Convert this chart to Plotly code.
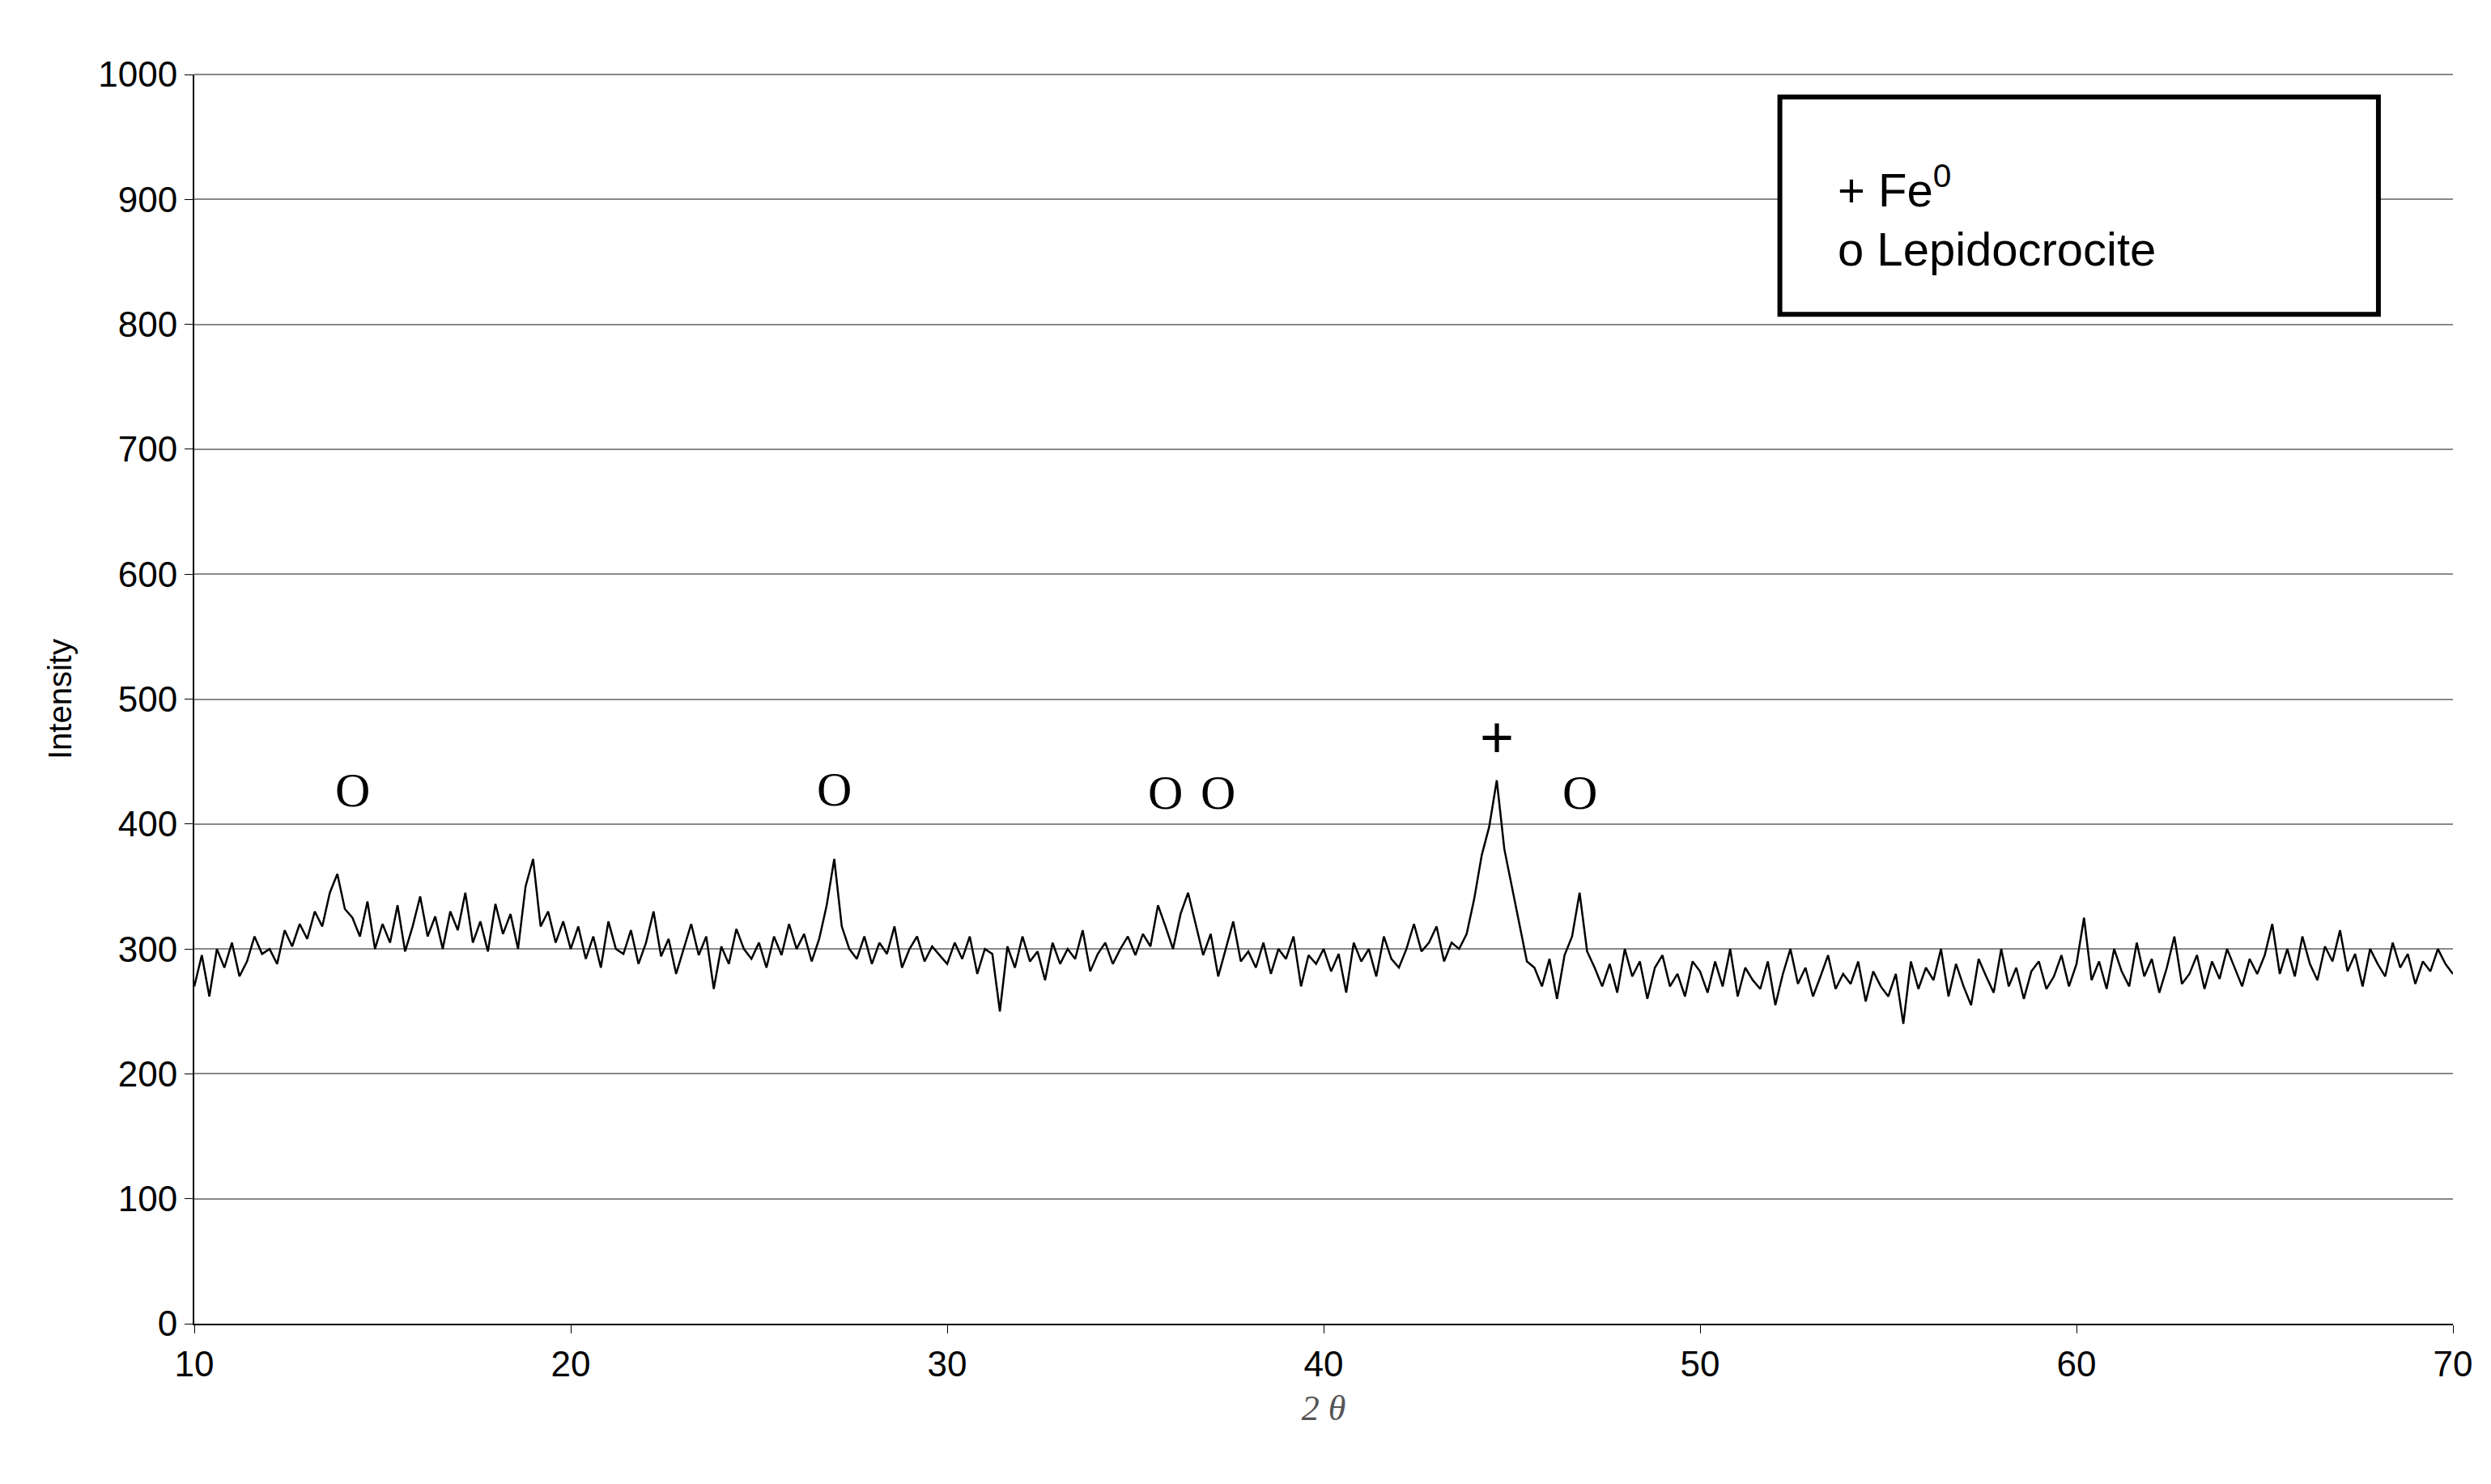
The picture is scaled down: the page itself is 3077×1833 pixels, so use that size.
import plotly.graph_objects as go

two_theta_start = 10.0
two_theta_step = 0.2
intensity = [
270,295,262,300,285,305,278,290,310,296,300,288,315,302,320,308,330,318,345,360,332,325,310,338,300,
320,305,335,298,318,342,310,326,300,330,315,345,305,322,298,336,312,328,300,350,372,318,330,305,322,
300,318,292,310,285,322,300,296,315,288,305,330,294,308,280,300,320,295,310,268,302,288,316,300,292,
305,285,310,295,320,300,312,290,308,335,372,318,300,292,310,288,305,296,318,285,300,310,290,302,295,
288,305,292,310,280,300,296,250,302,285,310,290,298,275,305,288,300,292,315,282,296,305,288,300,310,
295,312,302,335,318,300,328,345,320,295,312,278,300,322,290,298,285,305,280,300,292,310,270,295,288,
300,282,296,265,305,290,300,278,310,292,285,300,320,298,305,318,290,305,300,312,340,375,398,435,380,
350,320,290,285,270,292,260,295,310,345,298,285,270,288,265,300,278,290,260,285,295,270,280,262,290,
282,265,290,270,300,262,285,275,268,290,255,280,300,272,285,262,278,295,268,280,272,290,258,282,270,
262,280,240,290,268,285,275,300,262,288,270,255,292,278,265,300,270,285,260,282,290,268,278,295,270,
288,325,275,290,268,300,282,270,305,278,292,265,285,310,272,280,295,268,290,276,300,285,270,292,280,
295,320,280,300,278,310,288,275,302,290,315,282,296,270,300,288,278,305,285,296,272,290,282,300,288,
280]
two_theta = [round(two_theta_start + i * two_theta_step, 2) for i in range(len(intensity))]

marker_x = [14.2, 27.0, 35.8, 37.2, 46.8]
marker_y = [427, 428, 425, 425, 425]
fe_x, fe_y = [44.6], [470]

fig = go.Figure(go.Scatter(x=two_theta, y=intensity, mode="lines",
                           line=dict(color="black", width=2.5), showlegend=False))
for x, y in zip(marker_x, marker_y):
    fig.add_annotation(x=x, y=y, text="O", showarrow=False,
                       font=dict(family="Liberation Serif", size=60, color="black"))
for x, y in zip(fe_x, fe_y):
    fig.add_annotation(x=x, y=y, text="+", showarrow=False,
                       font=dict(family="Liberation Sans", size=72, color="black"))

fig.add_shape(type="rect", xref="paper", yref="paper", x0=0.702, x1=0.967, y0=0.808, y1=0.982,
              line=dict(color="black", width=6), fillcolor="white")
fig.add_annotation(xref="paper", yref="paper", x=0.727, y=0.935, xanchor="left",
                   text="+ Fe<sup>0</sup>", showarrow=False,
                   font=dict(family="Liberation Sans", size=58, color="black"))
fig.add_annotation(xref="paper", yref="paper", x=0.727, y=0.883, xanchor="left",
                   text="o Lepidocrocite", showarrow=False,
                   font=dict(family="Liberation Sans", size=58, color="black"))

fig.update_layout(
    width=3077, height=1833, plot_bgcolor="white", paper_bgcolor="white",
    margin=dict(l=232, r=55, t=84, b=206),
    font=dict(family="Liberation Sans", size=44, color="black"),
)
fig.update_xaxes(range=[10, 70], dtick=10, showgrid=False, showline=True, linecolor="black",
                 linewidth=2, ticks="outside", ticklen=10, tickcolor="black",
                 title=dict(text="<i>2 θ</i>", standoff=15,
                            font=dict(family="Liberation Serif", size=44, color="#555")))
fig.update_yaxes(range=[0, 1000], dtick=100, showgrid=True, gridcolor="#888", gridwidth=2,
                 showline=True, linecolor="black", linewidth=2, ticks="outside", ticklen=10,
                 tickcolor="black", zeroline=False,
                 title=dict(text="Intensity", standoff=20, font=dict(size=40)))
fig.add_shape(type="line", xref="paper", yref="paper", x0=0, x1=1, y0=1, y1=1,
              line=dict(color="#888", width=2))
fig.write_html("out.html")
